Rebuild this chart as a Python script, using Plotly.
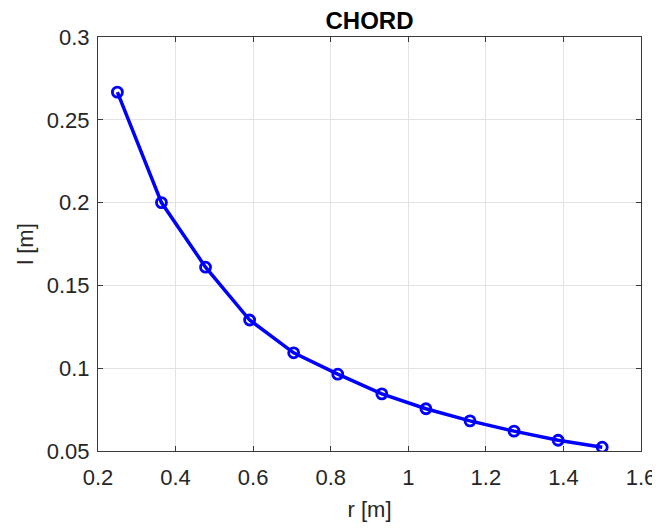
import plotly.graph_objects as go

r_vals = [0.25, 0.3636, 0.4773, 0.5909, 0.7045, 0.8182, 0.9318, 1.0455, 1.1591, 1.2727, 1.3864, 1.5]
l_vals = [0.2667, 0.2, 0.161, 0.1291, 0.1093, 0.0964, 0.0845, 0.0755, 0.0682, 0.062, 0.0565, 0.0523]

x_ticks = [0.2, 0.4, 0.6, 0.8, 1.0, 1.2, 1.4, 1.6]
x_ticktext = ["0.2", "0.4", "0.6", "0.8", "1", "1.2", "1.4", "1.6"]
y_ticks = [0.05, 0.1, 0.15, 0.2, 0.25, 0.3]
y_ticktext = ["0.05", "0.1", "0.15", "0.2", "0.25", "0.3"]

FONT = "Liberation Sans, Arial, sans-serif"
AX = "#262626"

fig = go.Figure()
fig.add_trace(go.Scatter(
    x=r_vals, y=l_vals, mode="lines+markers",
    line=dict(color="#0000ff", width=3.5),
    marker=dict(symbol="circle-open", size=10, color="#0000ff", line=dict(width=2.8, color="#0000ff")),
    showlegend=False,
))

axis_common = dict(
    showline=True, linecolor="#3a3a3a", linewidth=1, mirror="ticks",
    ticks="inside", ticklen=5, tickcolor="#3a3a3a", tickwidth=1,
    showgrid=True, gridcolor="#e3e3e3", gridwidth=1, zeroline=False,
    tickfont=dict(family=FONT, size=22, color=AX), automargin=False,
)

fig.update_layout(
    width=652, height=520,
    margin=dict(l=90, r=19, t=29, b=77),
    paper_bgcolor="white", plot_bgcolor="white",
    title=dict(text="<b>CHORD</b>", x=0.5, xanchor="center", xref="paper", y=0.975, yanchor="middle",
               font=dict(family=FONT, size=24, color="black"), automargin=False),
    xaxis=dict(range=[0.2, 1.6], tickvals=x_ticks, ticktext=x_ticktext, ticklabelstandoff=7,
               title=dict(text="r [m]", font=dict(family=FONT, size=22, color=AX), standoff=12),
               **axis_common),
    yaxis=dict(range=[0.05, 0.3], tickvals=y_ticks, ticktext=y_ticktext, ticklabelstandoff=3,
               title=dict(text="l [m]", font=dict(family=FONT, size=22, color=AX), standoff=7),
               **axis_common),
)

fig.write_html("out.html")
